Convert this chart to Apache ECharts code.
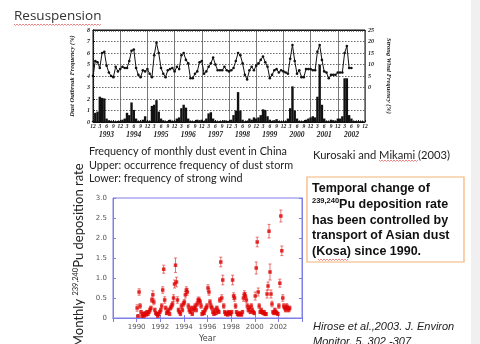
<!DOCTYPE html>
<html><head><meta charset="utf-8">
<script src="https://cdn.jsdelivr.net/npm/echarts@6/dist/echarts.min.js"></script>
<style>html,body{margin:0;padding:0;background:#fff;overflow:hidden}#c{width:480px;height:344px}</style>
</head><body><div id="c"></div>
<script>
// ---------- Top chart: monthly dust data, month index 0 = Dec 1992 ----------
const dustFirstYear = 1993;
// upper curve (plotted in left-axis units)
const dustLine = [
 4.0,5.3,5.2,4.7,6.0,6.1,4.9,4.3,4.0,3.9,4.8,4.4,
 4.6,4.8,4.7,4.7,5.3,6.2,6.3,4.7,4.1,3.9,4.5,4.4,
 4.6,4.2,3.9,5.8,6.9,6.0,4.7,4.2,3.9,4.5,4.6,4.7,
 4.4,4.8,4.6,5.8,6.0,5.4,5.1,3.8,3.8,4.2,4.4,5.2,
 5.3,4.2,4.4,4.8,5.1,5.6,5.0,4.5,4.5,4.5,4.8,4.5,
 4.4,4.5,4.7,5.3,6.0,5.8,5.1,4.1,3.7,4.5,4.8,4.5,
 4.9,5.1,5.4,5.7,5.2,4.8,3.8,4.1,4.5,4.6,4.3,4.5,
 4.4,4.3,4.2,5.5,6.7,5.3,4.2,4.5,3.9,3.9,4.6,4.6,
 4.6,4.5,4.5,6.1,6.7,5.4,4.4,4.3,3.8,4.1,4.1,4.1,
 4.3,4.3,4.3,6.0,6.6,4.7,4.7
];
// lower histogram
const dustBars = [
 0.1,0.8,0.9,2.2,2.1,2.05,0.3,0.15,0.1,0.05,0.05,0.1,
 0.1,0.2,0.3,0.8,0.6,1.7,1.05,0.3,0.1,0.05,0.2,0.5,
 0.1,0.1,1.4,1.5,1.9,0.9,0.3,0.15,0.05,0.1,0.2,0.1,
 0.1,0.3,0.4,1.2,1.5,1.25,0.3,0.1,0.05,0.1,0.2,0.15,
 0.2,0.1,0.3,0.75,0.85,0.3,0.1,0.05,0.1,0.05,0.15,0.1,
 0.1,0.2,0.6,1.0,2.6,1.0,0.2,0.05,0.1,0.3,0.2,0.4,
 0.3,0.4,0.6,1.1,1.05,0.5,0.2,0.1,0.15,0.25,0.1,0.05,
 0.05,0.1,0.3,1.2,3.1,1.0,0.3,0.1,0.05,0.1,0.2,0.3,
 0.4,0.5,0.4,2.2,5.0,1.5,0.3,0.1,0.05,0.2,0.15,0.1,
 0.3,0.3,0.5,3.8,3.8,0.6,0.3,0.1,0.1,0.05,0.05,0.05
];

// ---------- Bottom chart: monthly 239,240Pu deposition, Jan 1990 .. Dec 2002 ----------
const depStartYear = 1990;
const depRate = [
 0.25,0.05,0.65,0.30,0.15,0.05,0.10,0.05,0.12,0.08,0.15,0.10,
 0.15,0.20,0.25,0.45,0.58,0.40,0.20,0.12,0.10,0.05,0.10,0.15,
 0.20,0.30,0.70,1.22,0.45,0.25,0.12,0.15,0.20,0.10,0.25,0.30,
 0.35,0.50,0.85,1.32,0.90,0.45,0.20,0.15,0.10,0.30,0.20,0.35,
 0.40,0.58,0.70,0.65,0.30,0.20,0.15,0.25,0.10,0.20,0.25,0.30,
 0.20,0.35,0.45,0.45,0.40,0.30,0.10,0.15,0.12,0.20,0.25,0.30,
 0.75,0.65,0.40,0.30,0.25,0.15,0.10,0.20,0.12,0.25,0.18,0.15,
 0.45,1.40,0.50,0.95,0.30,0.15,0.10,0.12,0.08,0.15,0.12,0.10,
 0.15,0.95,0.55,0.50,0.30,0.15,0.10,0.08,0.12,0.10,0.08,0.15,
 0.50,0.60,0.55,0.45,0.30,0.20,0.25,0.15,0.30,0.20,0.15,0.12,
 0.55,1.25,1.90,0.65,0.30,0.15,0.20,0.15,0.12,0.15,0.10,0.10,
 0.60,0.80,2.17,1.15,0.60,0.35,0.15,0.12,0.20,0.15,0.12,0.10,
 0.30,0.87,2.55,1.68,0.50,0.30,0.25,0.20,0.30,0.25,0.20,0.25
];
const depErr = [
 .08,.03,.08,.06,.04,.03,.04,.03,.04,.03,.04,.04,
 .04,.05,.05,.06,.10,.07,.05,.04,.04,.03,.04,.04,
 .05,.06,.08,.10,.08,.05,.04,.04,.05,.04,.05,.06,
 .06,.08,.10,.18,.12,.08,.05,.04,.04,.06,.05,.06,
 .06,.08,.08,.08,.06,.05,.04,.05,.04,.05,.05,.06,
 .05,.06,.07,.07,.06,.06,.04,.04,.04,.05,.05,.06,
 .08,.08,.06,.06,.05,.04,.04,.05,.04,.05,.05,.04,
 .06,.12,.08,.12,.06,.04,.04,.04,.03,.04,.04,.04,
 .04,.12,.08,.08,.06,.04,.04,.03,.04,.04,.03,.04,
 .08,.08,.08,.07,.06,.05,.06,.04,.06,.05,.04,.04,
 .10,.15,.12,.10,.06,.04,.05,.04,.04,.04,.04,.04,
 .10,.10,.17,.20,.10,.07,.04,.04,.05,.04,.04,.04,
 .06,.10,.15,.12,.08,.06,.05,.05,.06,.05,.05,.05
];

const serif = 'Liberation Serif';
const blue = '#7f7fe8';

const lineData = dustLine.map((v,i)=>[i,v]);
const barData = dustBars.map((v,i)=>[i,v]);
const depPts = depRate.map((v,i)=>[depStartYear + (i+0.5)/12, v]);
const depBars = depRate.map((v,i)=>[depStartYear + (i+0.5)/12, v-depErr[i], v+depErr[i]]);

function squiggle(x0, x1, y){
  const pts=[]; let up=true;
  for(let x=x0;x<=x1;x+=1.5){ pts.push([x, up? y-1: y+0.5]); up=!up; }
  return {type:'polyline', shape:{points:pts}, style:{stroke:'#e86a6a', lineWidth:0.8, fill:null}, silent:true};
}
function txt(x,y,text,font,fill){
  return {type:'text', x:x, y:y, style:{text:text, font:font, fill:fill||'#222', verticalAlign:'middle', align:'left'}};
}

const chart = echarts.init(document.getElementById('c'), null, {renderer:'canvas'});
const option = {
  animation:false,
  backgroundColor:'#fff',
  grid:[
    {left:93, top:30, width:272, height:92, show:true, borderColor:'#111', borderWidth:1},
    {left:113, top:198, width:189, height:120, show:true, borderColor:blue, borderWidth:1}
  ],
  xAxis:[
    {type:'value', gridIndex:0, min:0, max:120, interval:3, position:'bottom',
     axisLine:{lineStyle:{color:'#111'}}, axisTick:{inside:true, length:2, lineStyle:{color:'#111'}},
     minorTick:{show:true, splitNumber:3, length:1.5, lineStyle:{color:'#111'}},
     splitLine:{show:false},
     axisLabel:{margin:2, fontSize:5.5, fontStyle:'italic', fontWeight:'bold', fontFamily:serif, color:'#222',
       formatter:v=>{ if(v%3) return ''; const m=v%12; return m===0?'12':String(m);} }},
    {type:'value', gridIndex:0, min:0, max:120, interval:6, position:'bottom',
     axisLine:{show:false}, axisTick:{show:false}, splitLine:{show:false},
     axisLabel:{margin:9, fontSize:7.5, fontStyle:'italic', fontWeight:'bold', fontFamily:serif, color:'#222',
       formatter:v=> (v%12===6) ? String(dustFirstYear + (v-6)/12) : ''}},
    {type:'value', gridIndex:0, min:0, max:120, interval:12, position:'top',
     axisLine:{show:false}, axisTick:{show:false}, axisLabel:{show:false},
     splitLine:{show:true, lineStyle:{color:'#555', width:0.8}}},
    {type:'value', gridIndex:0, min:0, max:120, interval:1, position:'top',
     axisLine:{lineStyle:{color:'#111'}}, axisTick:{inside:true, length:2, lineStyle:{color:'#333', width:0.6}},
     axisLabel:{show:false}, splitLine:{show:false}},
    {type:'value', gridIndex:1, min:1988, max:2004, interval:2, position:'bottom',
     axisLine:{lineStyle:{color:blue}}, axisTick:{inside:true, length:3, lineStyle:{color:blue}},
     minorTick:{show:false}, splitLine:{show:false},
     axisLabel:{margin:6, fontSize:7, color:'#555', fontFamily:'DejaVu Sans',
       formatter:v=> (v>1989 && v<2003) ? String(v) : ''},
     name:'Year', nameLocation:'middle', nameGap:17, nameTextStyle:{fontSize:8, color:'#444', fontFamily:'DejaVu Sans'}},
    {type:'value', gridIndex:1, min:1988, max:2004, interval:2, position:'top',
     axisLine:{lineStyle:{color:blue}}, axisTick:{inside:true, length:4, lineStyle:{color:blue}},
     axisLabel:{show:false}, splitLine:{show:false}}
  ],
  yAxis:[
    {type:'value', gridIndex:0, min:0, max:8, interval:1, position:'left',
     axisLine:{lineStyle:{color:'#111'}}, axisTick:{inside:true, length:2, lineStyle:{color:'#111'}},
     minorTick:{show:true, splitNumber:5, length:1.2, lineStyle:{color:'#333'}},
     splitLine:{show:true, lineStyle:{color:'#444', type:[1.5,1.5], width:0.8}},
     axisLabel:{margin:3, fontSize:6, fontStyle:'italic', fontWeight:'bold', fontFamily:serif, color:'#222'},
     name:'Dust Outbreak Frequency (%)', nameLocation:'middle', nameGap:7, nameRotate:90,
     nameTextStyle:{fontSize:6.5, fontStyle:'italic', fontWeight:'bold', fontFamily:serif, color:'#222'}},
    {type:'value', gridIndex:0, min:-15, max:25, interval:5, position:'right',
     axisLine:{lineStyle:{color:'#111'}}, axisTick:{show:false}, splitLine:{show:false},
     axisLabel:{margin:3, fontSize:6, fontStyle:'italic', fontWeight:'bold', fontFamily:serif, color:'#222',
       formatter:v=> v<0 ? '' : String(v)},
     name:'Strong Wind Frequency (%)', nameLocation:'middle', nameGap:11, nameRotate:-90,
     nameTextStyle:{fontSize:6.5, fontStyle:'italic', fontWeight:'bold', fontFamily:serif, color:'#222'}},
    {type:'value', gridIndex:1, min:0, max:3, interval:0.5, position:'left',
     axisLine:{lineStyle:{color:blue}}, axisTick:{inside:true, length:3, lineStyle:{color:blue}},
     splitLine:{show:false},
     axisLabel:{margin:6, fontSize:7, color:'#555', fontFamily:'DejaVu Sans', formatter:v=> v===0?'0':v.toFixed(1)}},
    {type:'value', gridIndex:1, min:0, max:3, interval:0.5, position:'right',
     axisLine:{lineStyle:{color:blue}}, axisTick:{inside:true, length:3, lineStyle:{color:blue}},
     axisLabel:{show:false}, splitLine:{show:false}}
  ],
  series:[
    {type:'bar', xAxisIndex:0, yAxisIndex:0, data:barData, barWidth:2.4, itemStyle:{color:'#111'}, silent:true},
    {type:'line', xAxisIndex:0, yAxisIndex:0, data:lineData, symbol:'circle', symbolSize:2.6,
     lineStyle:{color:'#111', width:1}, itemStyle:{color:'#111'}, silent:true},
    {type:'custom', xAxisIndex:4, yAxisIndex:2, data:depBars, silent:true,
     renderItem:(params, api)=>{
       const x=api.value(0), lo=api.value(1), hi=api.value(2);
       const a=api.coord([x,hi]), b=api.coord([x,lo]);
       const st={stroke:'rgba(228,70,70,0.75)', lineWidth:1};
       return {type:'group', children:[
         {type:'line', shape:{x1:a[0],y1:a[1],x2:b[0],y2:b[1]}, style:st},
         {type:'line', shape:{x1:a[0]-1.5,y1:a[1],x2:a[0]+1.5,y2:a[1]}, style:st},
         {type:'line', shape:{x1:b[0]-1.5,y1:b[1],x2:b[0]+1.5,y2:b[1]}, style:st}
       ]};
     }},
    {type:'scatter', xAxisIndex:4, yAxisIndex:2, data:depPts, symbol:'rect', symbolSize:3.5,
     itemStyle:{color:'#e00000'}, silent:true}
  ],
  graphic:[
    {type:'rect', shape:{x:471, y:0, width:9, height:344}, style:{fill:'#f0f0f0'}, silent:true},
    txt(14, 16, 'Resuspension', '13.5px "Open Sans"', '#333'),
    squiggle(14, 101, 25),
    txt(89, 152, 'Frequency of monthly dust event in China', '10.8px Lato', '#222'),
    txt(89, 165.5, 'Upper: occurrence frequency of dust storm', '10.8px Lato', '#222'),
    txt(89, 179, 'Lower: frequency of strong wind', '10.8px Lato', '#222'),
    txt(313, 155, 'Kurosaki and Mikami (2003)', '11.2px Lato', '#222'),
    squiggle(379, 418, 161),
    {type:'rect', shape:{x:307, y:177, width:157, height:85}, style:{fill:'#fff', stroke:'#f5b27a', lineWidth:1.2}, silent:true},
    txt(312, 189, 'Temporal change of', 'bold 12.5px "Liberation Sans"', '#111'),
    {type:'text', x:312, y:204.5, style:{text:'{s|239,240}{b|Pu deposition rate}', verticalAlign:'middle', align:'left', fill:'#111',
      rich:{s:{font:'bold 7.5px "Liberation Sans"', fill:'#111', verticalAlign:'top', lineHeight:15}, b:{font:'bold 12.5px "Liberation Sans"', fill:'#111', lineHeight:15}}}},
    txt(312, 220.5, 'has been controlled by', 'bold 12.5px "Liberation Sans"', '#111'),
    txt(312, 236, 'transport of Asian dust', 'bold 12.5px "Liberation Sans"', '#111'),
    txt(312, 252, '(Kosa) since 1990.', 'bold 12.5px "Liberation Sans"', '#111'),
    squiggle(318, 348, 260),
    txt(313, 327, 'Hirose et al.,2003. J. Environ', 'italic 11px "Liberation Sans"', '#222'),
    txt(313, 342, 'Monitor. 5, 302 -307', 'italic 11px "Liberation Sans"', '#222'),
    {type:'text', x:79, y:347, rotation:Math.PI/2, style:{text:'{b|Monthly }{s|239,240}{b|Pu deposition rate}', verticalAlign:'middle', align:'left', fill:'#222',
      rich:{s:{font:'7.5px Lato', fill:'#222', verticalAlign:'top', lineHeight:15}, b:{font:'13px Lato', fill:'#222', lineHeight:15}}}}
  ]
};
chart.setOption(option);
</script></body></html>
